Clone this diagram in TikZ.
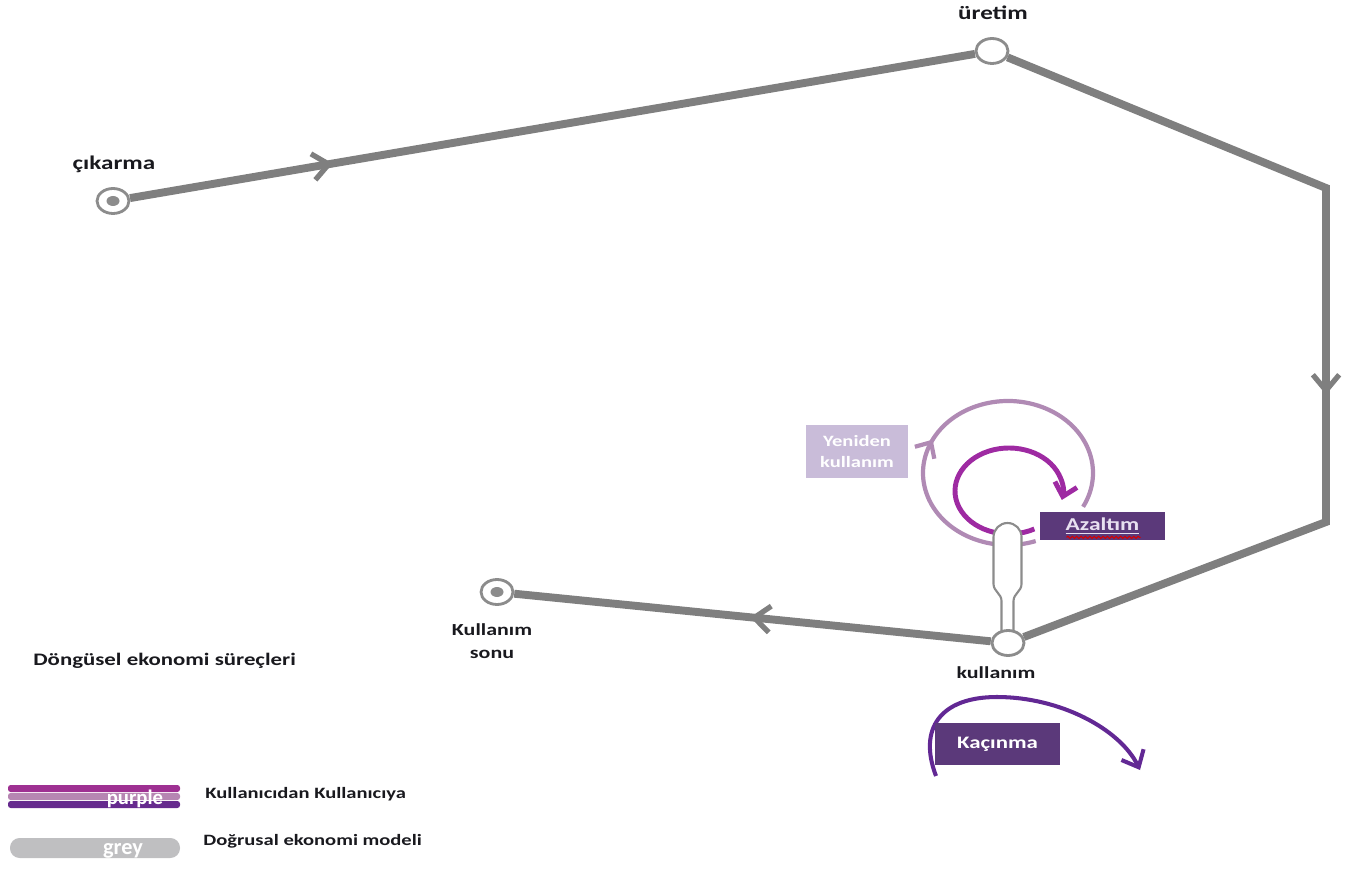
\documentclass[tikz,border=0pt]{standalone}
\usepackage{fontspec}
\setmainfont{Carlito}[FakeStretch=1.3]
\newfontfamily\keyfont{Carlito}
\usetikzlibrary{arrows.meta,decorations.markings,decorations.pathmorphing,shapes.geometric,backgrounds}

\definecolor{linegrey}{RGB}{127,127,127}
\definecolor{ringgrey}{RGB}{140,140,140}
\definecolor{labelblack}{RGB}{25,25,30}
\definecolor{reusecol}{RGB}{176,138,180}
\definecolor{reducecol}{RGB}{158,42,162}
\definecolor{reusefill}{RGB}{201,188,217}
\definecolor{boxpurple}{RGB}{91,57,122}
\definecolor{azaltext}{RGB}{232,224,240}
\definecolor{avoidcol}{RGB}{98,40,148}
\definecolor{keymagenta}{RGB}{158,48,146}
\definecolor{keymauve}{RGB}{182,134,178}
\definecolor{keyviolet}{RGB}{102,42,142}
\definecolor{pillgrey}{RGB}{191,191,193}

\tikzset{
	greyline/.style={draw=linegrey, line width=4.5pt},
	midarrow/.style={postaction={decorate}, decoration={markings, mark=at position #1 with {\arrow{Straight Barb[length=9pt,width=15pt,line width=3pt]}}}},
	station/.style={ellipse, draw=ringgrey, line width=1.6pt, fill=white, minimum width=0.64cm, minimum height=0.5cm, inner sep=0pt},
	stationtext/.style={font=\bfseries\fontsize{11}{13}\selectfont, text=labelblack, inner sep=0pt},
	smalltext/.style={font=\bfseries\fontsize{9.6}{13}\selectfont, text=labelblack, inner sep=0pt},
	keytext/.style={font=\bfseries\fontsize{9}{11}\selectfont, text=labelblack, inner sep=0pt, anchor=base west},
	loopbox/.style={rectangle, inner sep=0pt, align=center, text=white},
	stem/.style={draw=ringgrey, line width=1.2pt, fill=white}
}

\begin{document}
\begin{tikzpicture}[x=0.02cm, y=0.02cm]
	\useasboundingbox (0,0) rectangle (1351,869);
	\coordinate (reusecentre) at (1008,396);
	\coordinate (reducecentre) at (1009,378);
	\draw[reusecol, line width=2.4pt, postaction={decorate}, decoration={markings, mark=at position 0.43 with {\arrow{Straight Barb[length=7pt,width=13pt,line width=2.4pt]}}}] ([shift={(-71:85 and 72)}]reusecentre) arc[start angle=-71, end angle=-388, x radius=85, y radius=72];
	\draw[reducecol, line width=2.8pt, -{Straight Barb[length=7pt,width=13pt]}] ([shift={(-62:54 and 43)}]reducecentre) arc[start angle=-62, end angle=-372, x radius=54, y radius=43];
	\draw[stem] (1001.5,233) -- (1001.5,268) to[out=90,in=-90] (993.5,285) -- (993.5,332) arc[start angle=180, end angle=0, radius=14] -- (1021.5,285) to[out=-90,in=90] (1013.5,268) -- (1013.5,233);

	\node[station] (cikarma) at (113,668) {};
	\node[station] (uretim) at (992,818) {};
	\node[station] (kullanim) at (1008,226) {};
	\node[station] (sonu) at (497,277) {};
	\fill[ringgrey] (cikarma.center) ellipse [x radius=6.5, y radius=5];
	\fill[ringgrey] (sonu.center) ellipse [x radius=6.5, y radius=5];

	\begin{scope}[on background layer]
		\coordinate (bendtop) at (1326,681);
		\coordinate (bendbottom) at (1326,347);
		\draw[greyline, midarrow=0.24] (cikarma) -- (uretim);
		\draw[greyline, midarrow=0.55] (uretim) -- (bendtop) -- (bendbottom) -- (kullanim);
		\draw[greyline, midarrow=0.505] (kullanim) -- (sonu);
	\end{scope}

	\node[stationtext, anchor=base] (cikarmatext) at (114,699) {çıkarma};
	\node[stationtext, anchor=base] (uretimtext) at (993,849) {üretim};
	\node[smalltext, anchor=base] (kullanimtext) at (996,191) {kullanım};
	\node[smalltext, align=center] (sonutext) at (492,228) {Kullanım\\sonu};
	\node[stationtext, font=\bfseries\fontsize{10}{12}\selectfont, anchor=base west] (title) at (33,204) {Döngüsel ekonomi süreçleri};

	\node[loopbox, fill=reusefill, minimum width=2.04cm, minimum height=1.06cm, font=\bfseries\fontsize{9}{11.4}\selectfont] (reusebox) at (857,417.5) {Yeniden\\kullanım};
	\node[loopbox, fill=boxpurple, text=azaltext, minimum width=2.5cm, minimum height=0.56cm, font=\bfseries\fontsize{10.3}{12}\selectfont] (reducebox) at (1102.5,343) {\underline{Azaltım}};
	\draw[red!85!black, line width=0.6pt, decorate, decoration={snake, amplitude=0.6pt, segment length=2.5pt}] ([shift={(-36,3)}]reducebox.south) -- ([shift={(38,3)}]reducebox.south);

	\coordinate (avoidstart) at (936,93);
	\coordinate (avoidend) at (1140,99);
	\draw[avoidcol, line width=2.3pt, -{Straight Barb[length=8pt,width=14pt]}] (avoidstart) .. controls (918,140) and (940,172) .. (997,172) .. controls (1060,172) and (1120,140) .. (avoidend);
	\node[loopbox, fill=boxpurple, minimum width=2.5cm, minimum height=0.84cm, font=\bfseries\fontsize{10}{12}\selectfont] (avoidbox) at (997.5,125) {Kaçınma};

	\fill[keymagenta, rounded corners=1.5pt] (8,77) rectangle (180,84);
	\fill[keymauve, rounded corners=1.5pt] (8,69) rectangle (180,76);
	\fill[keyviolet, rounded corners=1.5pt] (8,61) rectangle (180,68);
	\node[text=white, font=\keyfont\bfseries\fontsize{11.8}{12}\selectfont, anchor=base, inner sep=0pt] (purplekey) at (135,65) {purple};
	\fill[pillgrey, rounded corners=5.5pt] (10,11) rectangle (180,31);
	\node[text=white, font=\keyfont\bfseries\fontsize{12.7}{13}\selectfont, anchor=base, inner sep=0pt] (greykey) at (123,15) {grey};
	\node[keytext] (purplenote) at (205,71) {Kullanıcıdan Kullanıcıya};
	\node[keytext] (greynote) at (203,24) {Doğrusal ekonomi modeli};
\end{tikzpicture}
\end{document}
